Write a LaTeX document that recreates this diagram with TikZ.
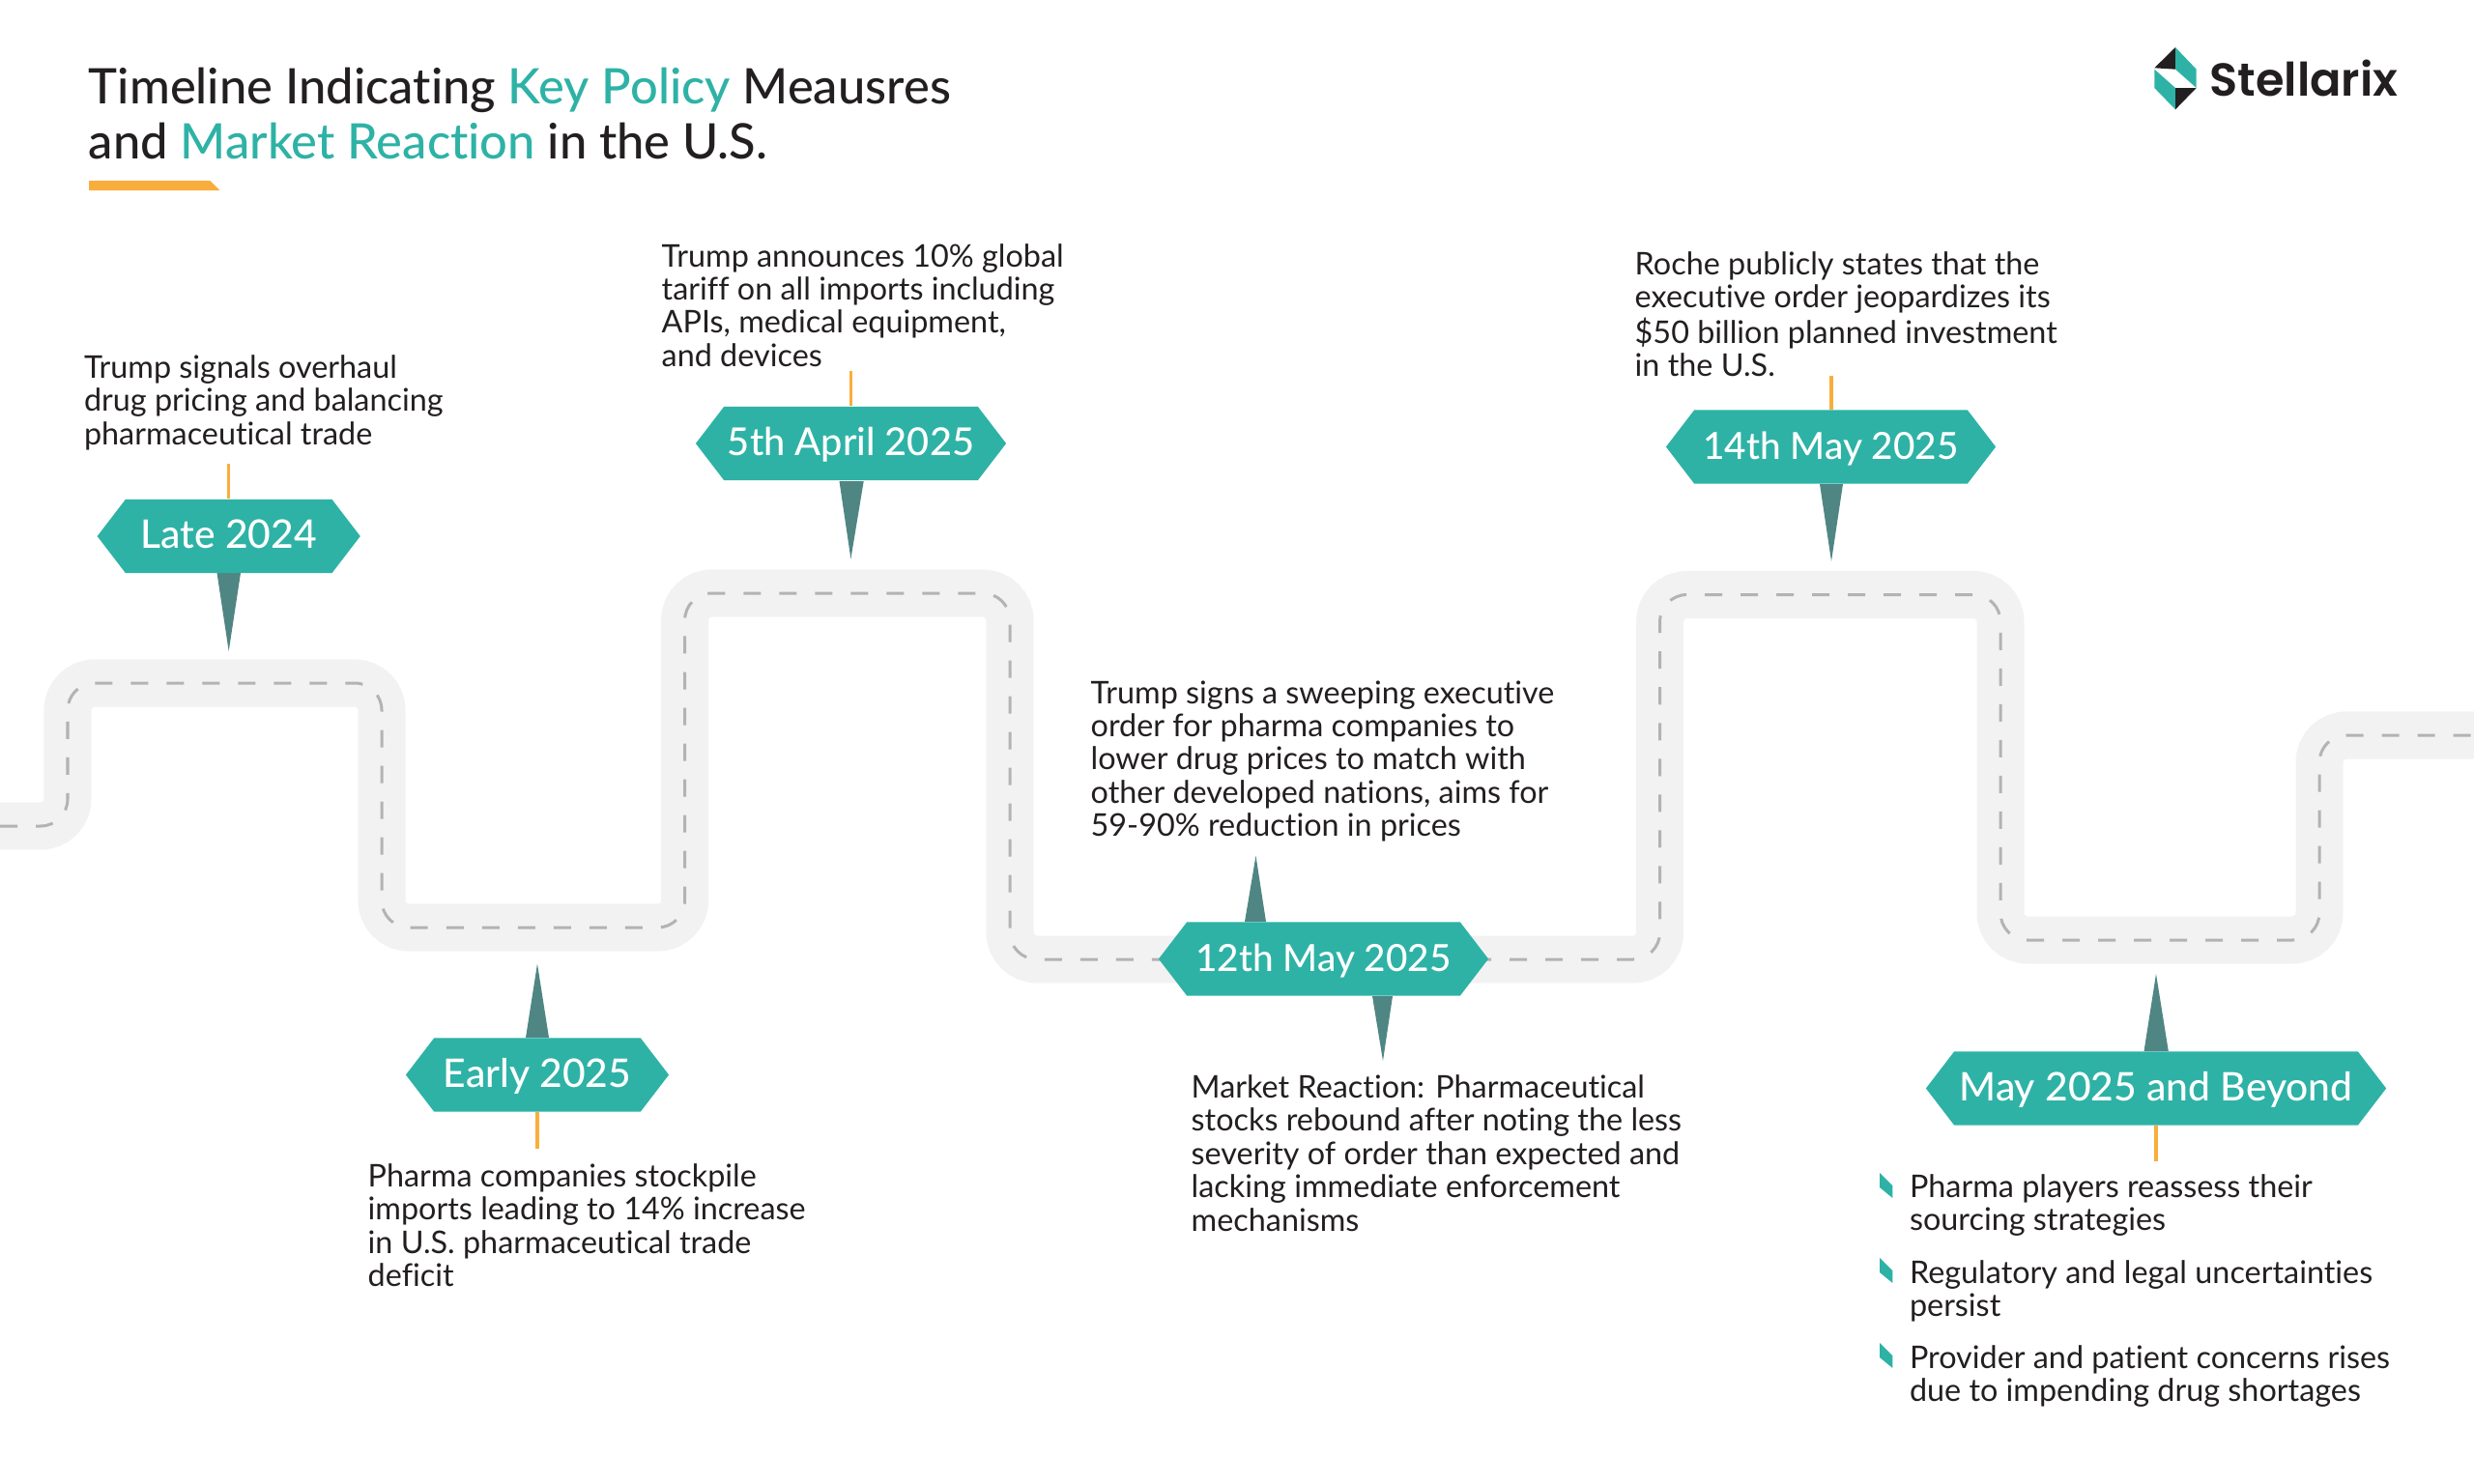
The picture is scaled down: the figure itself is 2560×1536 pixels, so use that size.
\documentclass[tikz,border=0pt]{standalone}
\usepackage{fontspec}
\usetikzlibrary{shapes.symbols,calc}
\setmainfont[Ligatures=NoCommon]{Lato}
\newfontfamily\tagfont[Ligatures=NoCommon]{Lato Medium}
\newfontfamily\logofont{Poppins SemiBold}
\definecolor{teal1}{HTML}{2EB2A6}
\definecolor{spikecol}{HTML}{4F8683}
\definecolor{orange1}{HTML}{F9AE3B}
\definecolor{roadcol}{HTML}{F2F2F3}
\definecolor{dashcol}{HTML}{B3B3B3}
\definecolor{ink}{HTML}{231F20}
\newcommand{\blk}[1]{\begin{tabular}[t]{@{}l@{}}#1\end{tabular}}
\tikzset{
  x=0.01cm,y=-0.01cm,
  road/.style={draw=roadcol,line width=0.49cm,rounded corners=0.28cm},
  roaddash/.style={draw=dashcol,line width=0.03cm,rounded corners=0.28cm,dash pattern=on 0.18cm off 0.19cm},
  tagbox/.style={signal,signal to=east and west,signal pointer angle=105,fill=teal1,draw=none,inner sep=0pt,text=white,
    text height=0.9em,text depth=0.18em,
    font=\tagfont\fontsize{11.6}{14}\selectfont,minimum height=0.76cm},
  spike/.style={fill=spikecol,draw=none},
  stem/.style={draw=orange1,line width=0.035cm},
  body/.style={anchor=base west,inner sep=0pt,text=ink,font=\fontsize{9.2}{9.8}\selectfont},
  titletext/.style={anchor=base west,inner sep=0pt,text=ink,font=\tagfont\fontsize{14.4}{16.3}\selectfont},
  bulletmark/.style={fill=teal1,draw=none}
}
\begin{document}
\begin{tikzpicture}
\useasboundingbox (0,0) rectangle (2560,1536);
% road
\def\roadpath{(0,855) -| (70,707) -| (395,960) -| (708.6,614) -| (1045,993) -| (1717.6,615.5) -| (2070,973) -| (2400,761) -- (2560,761)}
\path[road] \roadpath;
\path[roaddash] \roadpath;
% title
\node[titletext] (title) at (91.2,107.5) {\blk{Timeline Indicating \textcolor{teal1}{Key Policy} Meausres\\and \textcolor{teal1}{Market Reaction} in the U.S.}};
\fill[orange1] (92,187) -- (217.5,187) -- (227.3,197) -- (92,197) -- cycle;
% logo
\fill[ink] (2251,49) -- (2229.3,70.3) -- (2251,71.7) -- cycle;
\fill[teal1] (2251,49) -- (2272.7,71.7) -- (2272.7,91) -- (2251,71.7) -- cycle;
\fill[teal1] (2229.3,71.7) -- (2251,91) -- (2251,113.3) -- (2229.3,91) -- cycle;
\fill[ink] (2251,91) -- (2272.7,91) -- (2251,113.3) -- cycle;
\node[anchor=base west,inner sep=0pt,text=ink,font=\logofont\fontsize{13.6}{16}\selectfont] (logo) at (2286,99) {Stellarix};
% tips
\coordinate (tipA) at (236.7,674);
\coordinate (tipB) at (556,997.5);
\coordinate (tipC) at (880.4,578.6);
\coordinate (tipD) at (1299.5,885.7);
\coordinate (tipE) at (1431,1098);
\coordinate (tipF) at (1895,581);
\coordinate (tipG) at (2231,1008);
% spikes
\fill[spike] (224.5,593) -- (tipA) -- (249,593) -- cycle;
\fill[spike] (544,1074) -- (tipB) -- (568,1074) -- cycle;
\fill[spike] (868.5,498) -- (tipC) -- (893.7,498) -- cycle;
\fill[spike] (1288,954) -- (tipD) -- (1310,954) -- cycle;
\fill[spike] (1420,1031) -- (tipE) -- (1441,1031) -- cycle;
\fill[spike] (1883,501) -- (tipF) -- (1907,501) -- cycle;
\fill[spike] (2218.5,1088) -- (tipG) -- (2243.8,1088) -- cycle;
% tags
\node[tagbox,minimum width=2.72cm] (late) at (236.7,555) {Late 2024};
\node[tagbox,minimum width=2.72cm] (early) at (556,1112.5) {Early 2025};
\node[tagbox,minimum width=3.21cm,font=\tagfont\fontsize{11.3}{14}\selectfont] (april) at (880.5,459) {5th April 2025};
\node[tagbox,minimum width=3.41cm,font=\tagfont\fontsize{11}{14}\selectfont] (may12) at (1369.5,992.5) {12th May 2025};
\node[tagbox,minimum width=3.41cm,font=\tagfont\fontsize{11}{14}\selectfont] (may14) at (1894.5,462.5) {14th May 2025};
\node[tagbox,minimum width=4.76cm] (beyond) at (2231,1126.5) {May 2025 and Beyond};
% stems
\coordinate (stemA) at (236.7,480);
\coordinate (stemB) at (556,1188.6);
\coordinate (stemC) at (880.4,383.5);
\coordinate (stemF) at (1895,388.6);
\coordinate (stemG) at (2231,1202);
\draw[stem] (stemA) -- (late.north -| stemA);
\draw[stem] (stemB) -- (early.south -| stemB);
\draw[stem] (stemC) -- (april.north -| stemC);
\draw[stem] (stemF) -- (may14.north -| stemF);
\draw[stem] (stemG) -- (beyond.south -| stemG);
% body text
\node[body] (t1) at (86.3,391.5) {\blk{Trump signals overhaul\\drug pricing and balancing\\pharmaceutical trade}};
\node[body] (t2) at (380,1228.5) {\blk{Pharma companies stockpile\\imports leading to 14\% increase\\in U.S. pharmaceutical trade\\deficit}};
\node[body] (t3) at (684,276) {\blk{Trump announces 10\% global\\tariff on all imports including\\APIs, medical equipment,\\and devices}};
\node[body] (t4) at (1128,728) {\blk{Trump signs a sweeping executive\\order for pharma companies to\\lower drug prices to match with\\other developed nations, aims for\\59-90\% reduction in prices}};
\node[body] (t5) at (1232,1136.5) {\blk{Market Reaction: Pharmaceutical\\stocks rebound after noting the less\\severity of order than expected and\\lacking immediate enforcement\\mechanisms}};
\node[body] (t6) at (1691,284) {\blk{Roche publicly states that the\\executive order jeopardizes its\\\$50 billion planned investment\\in the U.S.}};
\node[body] (b1) at (1975.3,1239.5) {\blk{Pharma players reassess their\\sourcing strategies}};
\node[body] (b2) at (1975.3,1328.5) {\blk{Regulatory and legal uncertainties\\persist}};
\node[body] (b3) at (1975.3,1416.5) {\blk{Provider and patient concerns rises\\due to impending drug shortages}};
% bullets
\foreach \yy in {1214,1302,1390}{
  \fill[bulletmark] (1945,\yy) -- (1958.4,\yy+13.4) -- (1958.4,\yy+26) -- (1945,\yy+15) -- cycle;
}
\end{tikzpicture}
\end{document}
